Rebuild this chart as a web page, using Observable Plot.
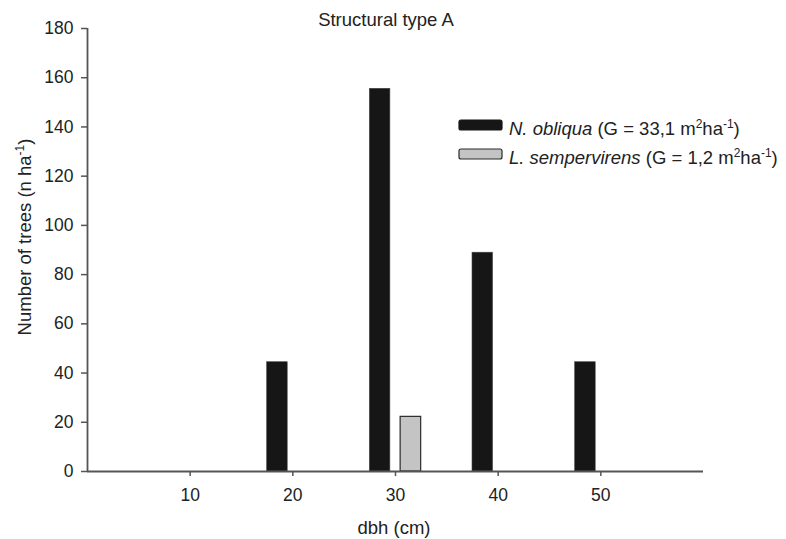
<!DOCTYPE html>
<html><head><meta charset="utf-8">
<script src="https://cdn.jsdelivr.net/npm/d3@7"></script>
<script src="https://cdn.jsdelivr.net/npm/@observablehq/plot@0.6"></script>
<style>
body{margin:0;background:#fff;}
#wrap{position:relative;width:786px;height:539px;}
</style></head><body>
<div id="wrap"></div>
<script>
const title = "Structural type A";
const dbh = [10, 20, 30, 40, 50];
const nObliqua = [0, 44.4, 155.5, 88.9, 44.4];
const lSempervirens = [0, 0, 22.2, 0, 0];
const xTicks = [10, 20, 30, 40, 50];
const yTicks = [0, 20, 40, 60, 80, 100, 120, 140, 160, 180];
const species = ["N. obliqua", "L. sempervirens"];
const basalArea = ["33,1", "1,2"];
const xLabel = "dbh (cm)";
const yLabel = "Number of trees (n ha";

const FONT = "'Liberation Sans', Arial, Helvetica, sans-serif";
const TXT = "#222";
const AX = "#555";
const FS = 18.5, SUP = 12;

const rowsN = dbh.map((d, i) => ({dbh: d, n: nObliqua[i]})).filter(r => r.n > 0);
const rowsL = dbh.map((d, i) => ({dbh: d, n: lSempervirens[i]})).filter(r => r.n > 0);

// bar layout (in dbh units): each bar 2 units wide, 1 unit gap, group centred on tick
const BW = 2, GAP = 1;

const chart = Plot.plot({
  width: 786,
  height: 539,
  marginLeft: 87,
  marginRight: 83,
  marginTop: 28,
  marginBottom: 68,
  style: {fontFamily: FONT, fontSize: "17.5px", color: TXT, background: "#fff"},
  x: {domain: [0, 60]},
  y: {domain: [0, 180]},
  marks: [
    Plot.rectY(rowsN, {x1: d => d.dbh - GAP / 2 - BW, x2: d => d.dbh - GAP / 2, y: "n", fill: "#161616", stroke: "#444", strokeWidth: 0.6}),
    Plot.rectY(rowsL, {x1: d => d.dbh + GAP / 2, x2: d => d.dbh + GAP / 2 + BW, y: "n", fill: "#c4c4c4", stroke: "#2a2a2a", strokeWidth: 1.2}),
    Plot.axisY({ticks: yTicks, tickSize: 6, tickPadding: 8, label: null, stroke: AX, strokeWidth: 1.5, fill: TXT}),
    Plot.axisX({ticks: xTicks, tickSize: 5, tickPadding: 12, label: null, stroke: AX, strokeWidth: 1.5, fill: TXT}),
    Plot.ruleX([0], {stroke: AX, strokeWidth: 1.8}),
    Plot.ruleY([0], {stroke: AX, strokeWidth: 1.8})
  ]
});
document.getElementById("wrap").appendChild(chart);

const svg = d3.select(chart);

// title
svg.append("text").attr("x", 386).attr("y", 26).attr("text-anchor", "middle")
  .attr("font-size", FS).attr("fill", TXT).text(title);

// x label
svg.append("text").attr("x", 394).attr("y", 534).attr("text-anchor", "middle")
  .attr("font-size", FS).attr("fill", TXT).text(xLabel);

// y label
const yl = svg.append("text").attr("transform", "translate(31,237) rotate(-90)")
  .attr("text-anchor", "middle").attr("font-size", FS).attr("fill", TXT);
yl.append("tspan").text(yLabel);
yl.append("tspan").attr("dy", -7).attr("font-size", SUP).text("-1");
yl.append("tspan").attr("dy", 7).text(")");

// legend
const legendFills = [["#161616", "#161616"], ["#c4c4c4", "#2a2a2a"]];
const ly = [120, 149];
species.forEach((s, i) => {
  svg.append("rect").attr("x", 459).attr("y", ly[i]).attr("width", 43).attr("height", 10)
    .attr("rx", 2).attr("fill", legendFills[i][0]).attr("stroke", legendFills[i][1]).attr("stroke-width", 1.2);
  const t = svg.append("text").attr("x", 509).attr("y", ly[i] + 15).attr("text-anchor", "start")
    .attr("font-size", FS).attr("fill", TXT);
  t.append("tspan").attr("font-style", "italic").text(s);
  t.append("tspan").text(" (G = " + basalArea[i] + " m");
  t.append("tspan").attr("dy", -7).attr("font-size", SUP).text("2");
  t.append("tspan").attr("dy", 7).text("ha");
  t.append("tspan").attr("dy", -7).attr("font-size", SUP).text("-1");
  t.append("tspan").attr("dy", 7).text(")");
});
</script>
</body></html>
